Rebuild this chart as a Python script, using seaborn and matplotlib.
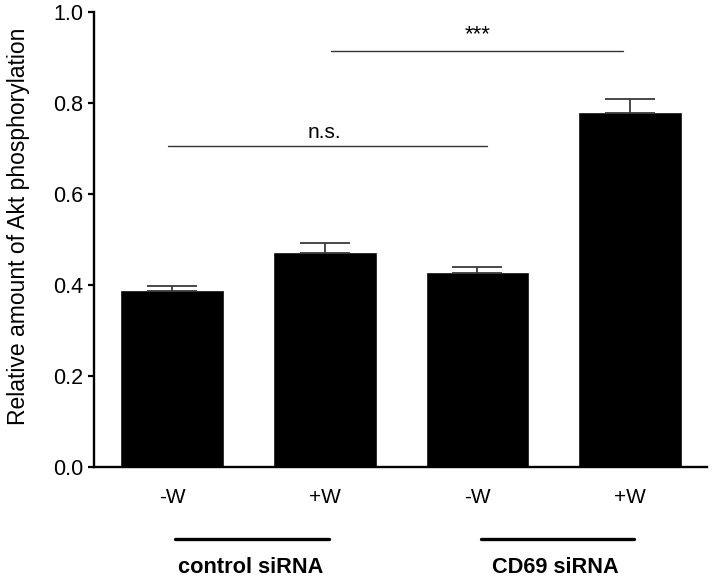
import numpy as np
import pandas as pd
import matplotlib
matplotlib.use("Agg")
import matplotlib.pyplot as plt
import matplotlib.transforms as mtransforms
import seaborn as sns

# values
conditions = ["ctrl -W", "ctrl +W", "CD69 -W", "CD69 +W"]
tick_labels = ["-W", "+W", "-W", "+W"]
means = [0.386, 0.471, 0.427, 0.777]
sem = [0.012, 0.022, 0.012, 0.032]
groups = ["control siRNA", "CD69 siRNA"]
group_members = [(0, 1), (2, 3)]
# (from, to, line height, label)
comparisons = [(-0.026, 2.06, 0.705, "n.s."), (1.04, 2.955, 0.915, "***")]

sns.set_style("ticks", {"axes.edgecolor": "black", "text.color": "black",
                        "axes.labelcolor": "black", "xtick.color": "black",
                        "ytick.color": "black"})
plt.rcParams["font.family"] = ["Liberation Sans", "DejaVu Sans"]

df = pd.DataFrame({"condition": conditions, "value": means})

fig = plt.figure(figsize=(7.14, 5.82), dpi=100)
ax = fig.add_axes([0.1317, 0.1976, 0.858, 0.7818])

sns.barplot(data=df, x="condition", y="value", color="black",
            width=0.667, edgecolor="#222222", linewidth=0.6,
            errorbar=None, ax=ax)

# upper-only error bars
ax.errorbar(np.arange(len(means)), means,
            yerr=[np.zeros(len(sem)), sem], fmt="none",
            ecolor="#3a3a3a", elinewidth=1.3, capsize=18, capthick=1.3)

ax.set_ylim(0, 1.0)
ax.set_xlim(-0.51, 3.5)
ax.set_yticks(np.arange(0, 1.01, 0.2))
ax.set_yticklabels([f"{v:.1f}" for v in np.arange(0, 1.01, 0.2)], fontsize=15.5)
ax.set_xticks(range(len(tick_labels)))
ax.set_xticklabels(tick_labels, fontsize=15)
ax.set_xlabel("")
ax.set_ylabel("Relative amount of Akt phosphorylation", fontsize=16.5, labelpad=16)
ax.yaxis.set_label_coords(-0.105, 0.53)

ax.tick_params(axis="x", length=0, pad=15)
ax.tick_params(axis="y", length=4, width=1.6, direction="out", pad=4)
sns.despine(ax=ax)
for side in ["left", "bottom"]:
    ax.spines[side].set_linewidth(1.7)

# significance lines
for a, b, y, label in comparisons:
    ax.plot([a, b], [y, y], color="#333333", lw=1.0)
ax.text(1.0, 0.723, "n.s.", ha="center", va="baseline", fontsize=15)
ax.text(2.0, 0.938, "***", ha="center", va="baseline", fontsize=16)

# group brackets below the axis
trans = mtransforms.blended_transform_factory(ax.transData, ax.transAxes)
for name, (a, b) in zip(groups, group_members):
    ax.plot([a + 0.02, b + 0.026], [-0.158, -0.158], color="black", lw=2.4,
            transform=trans, clip_on=False)
    ax.text((a + b) / 2 + 0.013, -0.22, name, ha="center", va="center",
            fontsize=15.7, fontweight="bold", transform=trans)

fig.savefig("out.png", dpi=100)
